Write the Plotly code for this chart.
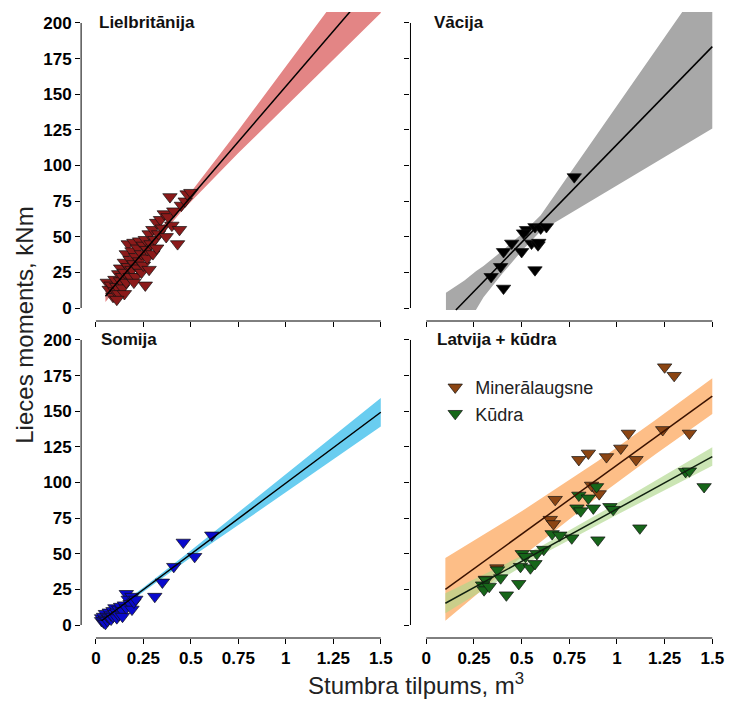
import plotly.graph_objects as go

# ---------------- data ----------------
# Lielbritānija
uk_x = [0.06, 0.07, 0.08, 0.09, 0.10, 0.10, 0.11, 0.12, 0.12, 0.13, 0.13, 0.14, 0.14, 0.15, 0.15,
        0.16, 0.16, 0.17, 0.17, 0.18, 0.18, 0.19, 0.19, 0.20, 0.20, 0.21, 0.21, 0.22, 0.22, 0.23,
        0.23, 0.24, 0.24, 0.25, 0.25, 0.26, 0.26, 0.27, 0.27, 0.28, 0.28, 0.29, 0.30, 0.30, 0.31,
        0.32, 0.32, 0.33, 0.34, 0.35, 0.36, 0.37, 0.38, 0.39, 0.40, 0.41, 0.43, 0.44, 0.45, 0.47,
        0.48, 0.50, 0.20, 0.15, 0.11]
uk_y = [18, 13, 16, 8, 12, 20, 15, 24, 10, 19, 28, 22, 14, 32, 25,
        18, 38, 29, 45, 22, 34, 40, 27, 46, 31, 36, 22, 42, 28, 47,
        33, 38, 25, 44, 30, 16, 48, 35, 41, 27, 52, 45, 38, 55, 48,
        60, 42, 52, 62, 56, 66, 50, 64, 78, 58, 68, 45, 55, 72, 75,
        80, 81, 18, 10, 6]
uk_band_x = [0.05, 0.45, 0.75, 1.0, 1.25, 1.5]
uk_band_lo = [4.2, 67.7, 108.7, 141.5, 174.2, 207.0]
uk_band_hi = [12.2, 72.7, 124.7, 169.5, 214.2, 259.0]
uk_fit_x = [0.05, 1.5]
uk_fit_y = [8.25, 233.0]

# Vācija
de_x = [0.776, 0.526, 0.57, 0.60, 0.63, 0.51, 0.448, 0.405, 0.50, 0.552, 0.586, 0.39, 0.34, 0.57, 0.405, 0.59]
de_y = [92, 55, 57, 56, 57, 52.6, 45.4, 39.5, 39.5, 45.4, 44.2, 29, 22, 26.7, 13.8, 46]
de_band_x = [0.103, 0.2, 0.26, 0.3, 0.4, 0.5, 0.6, 0.75, 1.0, 1.25, 1.5]
de_band_lo = [-1.4, -1.4, -1.4, 7.5, 24.3, 40.0, 54.0, 66.0, 86.0, 106.0, 126.0]
de_band_hi = [10.7, 19.3, 25.8, 29.5, 40.3, 52.0, 65.0, 94.0, 142.0, 190.0, 238.0]
de_fit_x = [0.155, 1.5]
de_fit_y = [-1.4, 183.4]

# Somija
fi_x = [0.03, 0.03, 0.04, 0.04, 0.05, 0.05, 0.05, 0.06, 0.06, 0.07, 0.07, 0.08, 0.08, 0.09, 0.09,
        0.10, 0.10, 0.11, 0.11, 0.12, 0.12, 0.13, 0.14, 0.14, 0.15, 0.16, 0.16, 0.17, 0.18, 0.19,
        0.19, 0.20, 0.21, 0.31, 0.35, 0.41, 0.46, 0.52, 0.61]
fi_y = [5, 3, 2, 6, 4, 1, 8, 3, 6, 5, 9, 4, 7, 10, 6,
        8, 12, 5, 9, 11, 7, 13, 10, 6, 14, 12, 22, 18, 15, 11,
        20, 16, 18, 20, 30, 41, 58, 48, 63]
fi_band_x = [0.03, 0.25, 0.5, 0.75, 1.0, 1.25, 1.5]
fi_band_lo = [1.0, 23.4, 47.3, 70.1, 93.0, 116.1, 139.3]
fi_band_hi = [5.0, 26.4, 52.3, 79.1, 106.0, 132.7, 159.3]
fi_fit_x = [0.03, 1.5]
fi_fit_y = [3.0, 149.3]

# Latvija: minerālaugsne
lv_min_x = [1.25, 1.30, 1.24, 1.38, 1.06, 1.02, 1.10, 0.80, 0.85, 0.945, 0.867, 0.907, 0.676, 0.65, 0.667, 0.31, 0.37]
lv_min_y = [181, 175, 137, 134.5, 134.5, 124, 116, 116, 120.5, 118, 98, 92, 88, 74, 71, 32, 40]
lv_min_band_x = [0.1, 0.5, 0.9, 1.2, 1.5]
lv_min_band_lo = [3.0, 47.8, 90.0, 119.6, 148.1]
lv_min_band_hi = [47.0, 79.8, 115.0, 143.6, 173.1]
lv_min_fit_x = [0.1, 1.5]
lv_min_fit_y = [25.0, 160.6]

# Latvija: kūdra
lv_peat_x = [1.36, 1.38, 1.457, 1.12, 0.90, 0.893, 0.80, 0.85, 0.79, 0.81, 0.876, 0.963, 0.98, 0.66, 0.70,
             0.763, 0.616, 0.58, 0.503, 0.52, 0.494, 0.546, 0.57, 0.485, 0.373, 0.39, 0.312, 0.295, 0.303,
             0.33, 0.42]
lv_peat_y = [107.6, 108, 97, 68, 59.6, 97, 91, 89, 82, 80, 82, 83, 81, 64, 63,
             61, 53, 50, 50, 48, 41, 40, 43, 29, 38.6, 33, 31.6, 28, 24.6,
             27, 21]
lv_peat_band_x = [0.1, 0.6, 1.0, 1.5]
lv_peat_band_lo = [8.3, 49.0, 77.4, 111.7]
lv_peat_band_hi = [22.3, 55.0, 85.4, 124.7]
lv_peat_fit_x = [0.1, 1.5]
lv_peat_fit_y = [15.25, 118.15]

x_tickvals = [0, 0.25, 0.5, 0.75, 1, 1.25, 1.5]
x_ticktext = ["0", "0.25", "0.5", "0.75", "1", "1.25", "1.5"]
y_tickvals = [0, 25, 50, 75, 100, 125, 150, 175, 200]
y_ticktext = ["0", "25", "50", "75", "100", "125", "150", "175", "200"]

panel_titles = ["Lielbritānija", "Vācija", "Somija", "Latvija + kūdra"]
legend_names = ["Minerālaugsne", "Kūdra"]

# ---------------- layout geometry (pixels) ----------------
W, H = 734, 702
FONT = "Liberation Sans, Arial, sans-serif"
xdom_px = {1: (82, 389), 2: (415, 724), 3: (82, 389), 4: (415, 724)}
ydom_px = {1: (12, 321), 2: (12, 321), 3: (329, 638), 4: (329, 638)}
xrng = {1: [-0.078, 1.521], 2: [-0.083, 1.52], 3: [-0.078, 1.521], 4: [-0.083, 1.52]}
yrng = [-9.12, 207.7]

fig = go.Figure()


def ax(i, kind):
    return kind if i == 1 else f"{kind}{i}"


def add_band(i, bx, lo, hi, color):
    fig.add_trace(go.Scatter(
        x=list(bx) + list(bx)[::-1], y=list(hi) + list(lo)[::-1],
        fill="toself", fillcolor=color, mode="lines", line=dict(width=0),
        hoverinfo="skip", showlegend=False, xaxis=ax(i, "x"), yaxis=ax(i, "y")))


def add_pts(i, x, y, color, name=None, legend=False):
    fig.add_trace(go.Scatter(
        x=x, y=y, mode="markers", name=name, showlegend=legend,
        marker=dict(symbol="triangle-down", size=12.5, color=color,
                    line=dict(color="#111111", width=0.7)),
        xaxis=ax(i, "x"), yaxis=ax(i, "y")))


def add_fit(i, x, y, color="#000000"):
    fig.add_trace(go.Scatter(
        x=x, y=y, mode="lines", line=dict(color=color, width=1.5),
        hoverinfo="skip", showlegend=False, xaxis=ax(i, "x"), yaxis=ax(i, "y")))


# Panel 1 UK
add_band(1, uk_band_x, uk_band_lo, uk_band_hi, "rgb(227,133,133)")
add_pts(1, uk_x, uk_y, "#8B1A1A")
add_fit(1, uk_fit_x, uk_fit_y)
# Panel 2 Germany
add_band(2, de_band_x, de_band_lo, de_band_hi, "rgb(168,168,168)")
add_pts(2, de_x, de_y, "#000000")
add_fit(2, de_fit_x, de_fit_y)
# Panel 3 Finland
add_band(3, fi_band_x, fi_band_lo, fi_band_hi, "rgb(105,205,240)")
add_pts(3, fi_x, fi_y, "#0A0ACD")
add_fit(3, fi_fit_x, fi_fit_y)
# Panel 4 Latvia
add_band(4, lv_min_band_x, lv_min_band_lo, lv_min_band_hi, "rgb(253,190,135)")
add_band(4, lv_peat_band_x, lv_peat_band_lo, lv_peat_band_hi, "rgba(175,215,140,0.65)")
add_pts(4, lv_min_x, lv_min_y, "#8B4513", legend_names[0], True)
add_pts(4, lv_peat_x, lv_peat_y, "#17661A", legend_names[1], True)
add_fit(4, lv_min_fit_x, lv_min_fit_y, "#3A1200")
add_fit(4, lv_peat_fit_x, lv_peat_fit_y, "#102010")

layout = dict(
    width=W, height=H, margin=dict(l=0, r=0, t=0, b=0),
    paper_bgcolor="white", plot_bgcolor="white",
    font=dict(family=FONT, color="#111111"),
    showlegend=True,
    legend=dict(x=440 / W, y=1 - 369 / H, xanchor="left", yanchor="top",
                bgcolor="rgba(0,0,0,0)", font=dict(size=18, color="#222222"),
                tracegroupgap=0, itemwidth=30),
)

shapes = []
annotations = []
for i in range(1, 5):
    x0, x1 = xdom_px[i]
    y0, y1 = ydom_px[i]
    bottom = i in (3, 4)
    left = i in (1, 3)
    layout["xaxis" if i == 1 else f"xaxis{i}"] = dict(
        domain=[x0 / W, x1 / W], range=xrng[i], anchor=ax(i, "y"),
        showgrid=False, zeroline=False, showline=False,
        ticks="outside", ticklen=5, tickwidth=1, tickcolor="#000",
        tickvals=x_tickvals, ticktext=x_ticktext, showticklabels=bottom,
        tickfont=dict(size=17, family=FONT, color="#000", weight="bold"))
    layout["yaxis" if i == 1 else f"yaxis{i}"] = dict(
        domain=[1 - y1 / H, 1 - y0 / H], range=yrng, anchor=ax(i, "x"),
        showgrid=False, zeroline=False, showline=False,
        ticks="outside", ticklen=5, tickwidth=1, tickcolor="#000",
        tickvals=y_tickvals, ticktext=y_ticktext, showticklabels=left,
        tickfont=dict(size=17, family=FONT, color="#000", weight="bold"))
    # R-style axis lines spanning only the tick range
    shapes.append(dict(type="line", xref=ax(i, "x"), yref="paper",
                       x0=0, x1=1.5, y0=1 - y1 / H, y1=1 - y1 / H,
                       line=dict(color="#000", width=1)))
    shapes.append(dict(type="line", xref="paper", yref=ax(i, "y"),
                       x0=x0 / W, x1=x0 / W, y0=0, y1=200,
                       line=dict(color="#000", width=1)))

title_pos = {1: (98, 23), 2: (437, 23), 3: (100, 339), 4: (440, 339)}
for i in range(1, 5):
    tx, ty = title_pos[i]
    annotations.append(dict(text=f"<b>{panel_titles[i-1]}</b>", xref="paper", yref="paper",
                            x=tx / W, y=1 - ty / H, xanchor="left", yanchor="middle",
                            showarrow=False, font=dict(size=17, family=FONT, color="#111")))

annotations.append(dict(text="Lieces moments, kNm", xref="paper", yref="paper",
                        x=24 / W, y=1 - 325 / H, xanchor="center", yanchor="middle",
                        textangle=-90, showarrow=False,
                        font=dict(size=24, family=FONT, color="#222")))
annotations.append(dict(text="Stumbra tilpums, m<sup>3</sup>", xref="paper", yref="paper",
                        x=421 / W, y=1 - 684 / H, xanchor="center", yanchor="middle",
                        showarrow=False, font=dict(size=24, family=FONT, color="#222")))

layout["shapes"] = shapes
layout["annotations"] = annotations
fig.update_layout(**layout)
fig.write_html("out.html")
